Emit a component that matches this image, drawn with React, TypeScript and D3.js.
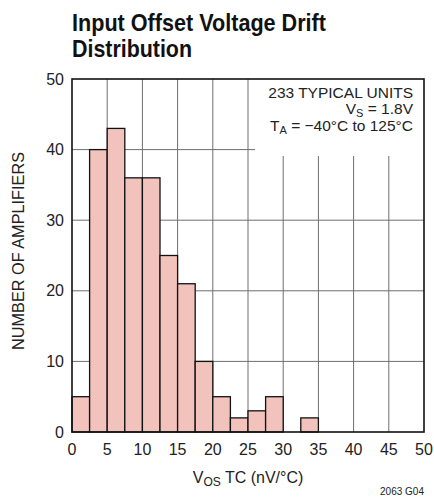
import React, { useEffect, useRef } from 'react';
import * as d3 from 'd3';

// histogram bins of 2.5 nV/°C, counts
const binStarts = [0, 2.5, 5, 7.5, 10, 12.5, 15, 17.5, 20, 22.5, 25, 27.5, 30, 32.5];
const counts = [5, 40, 43, 36, 36, 25, 21, 10, 5, 2, 3, 5, 0, 2];
const binWidth = 2.5;

const xTicks = [0, 5, 10, 15, 20, 25, 30, 35, 40, 45, 50];
const yTicks = [0, 10, 20, 30, 40, 50];

const titleLines = ['Input Offset Voltage Drift', 'Distribution'];
const titleWidths = [254, 120];

const W = 434;
const H = 502;
const FONT = "'Liberation Sans Narrow', 'Liberation Sans', Arial, sans-serif";

const App: React.FC = () => {
  const ref = useRef<SVGSVGElement | null>(null);

  useEffect(() => {
    document.body.style.margin = '0';
    if (!ref.current) return;
    const svg = d3.select(ref.current);
    svg.selectAll('*').remove();

    const margin = { top: 79, right: 10, bottom: 70, left: 72 };
    const innerW = W - margin.left - margin.right;
    const innerH = H - margin.top - margin.bottom;

    const x = d3.scaleLinear().domain([0, 50]).range([0, innerW]);
    const y = d3.scaleLinear().domain([0, 50]).range([innerH, 0]);

    svg.append('rect').attr('width', W).attr('height', H).attr('fill', '#fff');

    // title (condensed look via textLength)
    titleLines.forEach((t, i) => {
      svg
        .append('text')
        .attr('x', margin.left)
        .attr('y', 31 + i * 26)
        .attr('font-family', FONT)
        .attr('font-weight', 'bold')
        .attr('font-size', 24)
        .attr('fill', '#111')
        .attr('textLength', titleWidths[i])
        .attr('lengthAdjust', 'spacingAndGlyphs')
        .text(t);
    });

    const g = svg.append('g').attr('transform', `translate(${margin.left},${margin.top})`);

    // grid
    g.append('g')
      .selectAll('line')
      .data(xTicks.slice(1, -1))
      .enter()
      .append('line')
      .attr('x1', d => x(d))
      .attr('x2', d => x(d))
      .attr('y1', 0)
      .attr('y2', innerH)
      .attr('stroke', '#6e6e6e')
      .attr('stroke-width', 1);
    g.append('g')
      .selectAll('line')
      .data(yTicks.slice(1, -1))
      .enter()
      .append('line')
      .attr('x1', 0)
      .attr('x2', innerW)
      .attr('y1', d => y(d))
      .attr('y2', d => y(d))
      .attr('stroke', '#6e6e6e')
      .attr('stroke-width', 1);

    // annotation box covers the grid in the corner
    const boxLeft = x(26);
    const boxBottom = y(39.1);
    g.append('rect')
      .attr('x', boxLeft)
      .attr('y', 0)
      .attr('width', innerW - boxLeft)
      .attr('height', boxBottom)
      .attr('fill', '#fff');

    // bars
    g.append('g')
      .selectAll('rect')
      .data(binStarts.map((s, i) => ({ s, c: counts[i] })).filter(d => d.c > 0))
      .enter()
      .append('rect')
      .attr('x', d => x(d.s))
      .attr('y', d => y(d.c))
      .attr('width', d => x(d.s + binWidth) - x(d.s))
      .attr('height', d => y(0) - y(d.c))
      .attr('fill', '#f2c2bd')
      .attr('stroke', '#111')
      .attr('stroke-width', 1.3);

    // frame
    g.append('rect')
      .attr('width', innerW)
      .attr('height', innerH)
      .attr('fill', 'none')
      .attr('stroke', '#111')
      .attr('stroke-width', 1.6);

    // annotation text
    const ax = innerW - 11;
    g.append('text')
      .attr('font-family', FONT)
      .attr('font-size', 15.5)
      .attr('fill', '#222')
      .attr('text-anchor', 'end')
      .attr('x', ax)
      .attr('y', 19)
      .text('233 TYPICAL UNITS');

    const line = (yy: number, main: string, sub: string, rest: string) => {
      const t = g
        .append('text')
        .attr('font-family', FONT)
        .attr('font-size', 15.5)
        .attr('fill', '#222')
        .attr('text-anchor', 'end')
        .attr('x', ax)
        .attr('y', yy);
      t.append('tspan').text(main);
      t.append('tspan').attr('font-size', 11).attr('dy', 2.5).text(sub);
      t.append('tspan').attr('dy', -2.5).text(rest);
    };
    line(35, 'V', 'S', ' = 1.8V');
    line(52, 'T', 'A', ' = \u221240\u00b0C to 125\u00b0C');

    // tick labels
    g.append('g')
      .selectAll('text')
      .data(xTicks)
      .enter()
      .append('text')
      .attr('x', d => x(d))
      .attr('y', innerH + 23)
      .attr('text-anchor', 'middle')
      .attr('font-family', FONT)
      .attr('font-size', 16)
      .attr('fill', '#222')
      .text(d => d);
    g.append('g')
      .selectAll('text')
      .data(yTicks)
      .enter()
      .append('text')
      .attr('x', -8)
      .attr('y', d => y(d))
      .attr('dy', '0.35em')
      .attr('text-anchor', 'end')
      .attr('font-family', FONT)
      .attr('font-size', 16)
      .attr('fill', '#222')
      .text(d => d);

    // axis titles
    const xt = svg
      .append('text')
      .attr('x', margin.left + innerW / 2)
      .attr('y', 483)
      .attr('text-anchor', 'middle')
      .attr('font-family', FONT)
      .attr('font-size', 16)
      .attr('fill', '#222');
    xt.append('tspan').text('V');
    xt.append('tspan').attr('font-size', 12).attr('dy', 3).text('OS');
    xt.append('tspan').attr('dy', -3).text(' TC (nV/\u00b0C)');

    svg
      .append('text')
      .attr('transform', `translate(24,251) rotate(-90)`)
      .attr('text-anchor', 'middle')
      .attr('font-family', FONT)
      .attr('font-size', 16)
      .attr('fill', '#222')
      .attr('textLength', 198)
      .attr('lengthAdjust', 'spacingAndGlyphs')
      .text('NUMBER OF AMPLIFIERS');

    svg
      .append('text')
      .attr('x', margin.left + innerW)
      .attr('y', 495)
      .attr('text-anchor', 'end')
      .attr('font-family', FONT)
      .attr('font-size', 10)
      .attr('fill', '#222')
      .text('2063 G04');
  }, []);

  return <svg ref={ref} width={W} height={H} style={{ display: 'block' }} />;
};

export default App;
